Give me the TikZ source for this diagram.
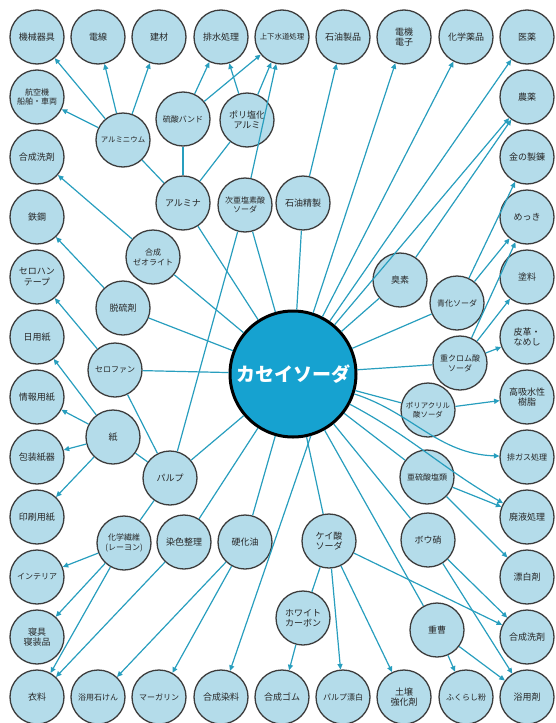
\documentclass[tikz,border=0pt]{standalone}
\usepackage{fontspec}
\usepackage{tikz}
\usetikzlibrary{arrows.meta}
\newfontfamily\cjk{Noto Sans CJK JP}
\definecolor{nodeFill}{RGB}{180,220,234}
\definecolor{nodeEdge}{RGB}{60,60,60}
\definecolor{hubFill}{RGB}{22,162,208}
\definecolor{lineBlue}{RGB}{40,158,190}
\tikzset{
  item/.style={circle, draw=nodeEdge, line width=1.3pt, fill=nodeFill,
    minimum size=54pt, inner sep=0pt, align=center,
    font=\cjk\fontsize{9}{10.6}\selectfont, text=black!85},
  mid/.style={font=\cjk\fontsize{8}{9.8}\selectfont},
  small/.style={font=\cjk\fontsize{7.4}{9}\selectfont},
  hub/.style={circle, draw=black, line width=3pt, fill=hubFill,
    minimum size=126pt, inner sep=0pt, text=white,
    font=\cjk\bfseries\fontsize{19}{21}\selectfont},
  feed/.style={draw=lineBlue, line width=1.2pt},
  link/.style={feed, -{Triangle[length=5.5pt,width=5pt]}}
}

\begin{document}
\begin{tikzpicture}[x=1pt,y=-1pt]
    \useasboundingbox (0,0) rectangle (555,723);
    % outer ring, top row
    \node[item] (kikai)  at (37,37)  {機械器具};
    \node[item] (densen) at (98,37)  {電線};
    \node[item] (kenzai) at (159,37) {建材};
    \node[item] (haisui) at (221,37) {排水処理};
    \node[item,small] (josui) at (282,37) {上下水道処理};
    \node[item] (sekiyu) at (343,37) {石油製品};
    \node[item] (denki)  at (404,37) {電機\\電子};
    \node[item] (kagaku) at (466,37) {化学薬品};
    \node[item] (iyaku)  at (527,37) {医薬};
    % right column
    \node[item] (noyaku)  at (527,97)  {農薬};
    \node[item] (kin)     at (527,157) {金の製錬};
    \node[item] (mekki)   at (527,217) {めっき};
    \node[item] (toryo)   at (527,277) {塗料};
    \node[item] (hikaku)  at (527,337) {皮革・\\なめし};
    \node[item] (kokyu)   at (527,397) {高吸水性\\樹脂};
    \node[item,mid] (haigas) at (527,457) {排ガス処理};
    \node[item] (haieki)  at (527,517) {廃液処理};
    \node[item] (hyohaku) at (527,577) {漂白剤};
    \node[item] (senzaiR) at (527,637) {合成洗剤};
    \node[item] (yokuzai) at (527,697) {浴用剤};
    % left column
    \node[item,mid] (kokuki) at (37,97) {航空機\\船舶・車両};
    \node[item] (senzaiL)  at (37,157) {合成洗剤};
    \node[item] (tekko)    at (37,217) {鉄鋼};
    \node[item] (tape)     at (37,277) {セロハン\\テープ};
    \node[item] (nichiyo)  at (37,337) {日用紙};
    \node[item] (joho)     at (37,397) {情報用紙};
    \node[item] (hoso)     at (37,457) {包装紙器};
    \node[item] (insatsu)  at (37,517) {印刷用紙};
    \node[item,mid] (interior) at (37,577) {インテリア};
    \node[item] (shingu)   at (37,637) {寝具\\寝装品};
    \node[item] (iryo)     at (37,697) {衣料};
    % bottom row
    \node[item,mid] (sekken) at (98,697) {浴用石けん};
    \node[item,mid] (margarin) at (159,697) {マーガリン};
    \node[item] (senryo)    at (221,697) {合成染料};
    \node[item] (gomu)      at (282,697) {合成ゴム};
    \node[item,mid] (pulpH) at (343,697) {パルプ漂白};
    \node[item] (dojo)      at (404,697) {土壌\\強化剤};
    \node[item,mid] (fukurashi) at (466,697) {ふくらし粉};
    % intermediate products
    \node[item,small] (alumi) at (123,140) {アルミニウム};
    \node[item,mid] (bando) at (183,119) {硫酸バンド};
    \node[item] (pac)      at (247,120) {ポリ塩化\\アルミ};
    \node[item] (alumina)  at (183,203) {アルミナ};
    \node[item,mid] (jiaen) at (245,205) {次亜塩素酸\\ソーダ};
    \node[item] (seisei)   at (303,203) {石油精製};
    \node[item,mid] (zeolite) at (153,257) {合成\\ゼオライト};
    \node[item] (datsuryu) at (123,308) {脱硫剤};
    \node[item,mid] (cello) at (115,370) {セロファン};
    \node[item] (kami)     at (113,437) {紙};
    \node[item] (pulp)     at (170,478) {パルプ};
    \node[item,mid] (rayon) at (124,543) {化学繊維\\(レーヨン)};
    \node[item] (senshoku) at (184,542) {染色整理};
    \node[item] (kokayu)   at (245,542) {硬化油};
    \node[item] (keisan)   at (329,541) {ケイ酸\\ソーダ};
    \node[item] (white)    at (303,618) {ホワイト\\カーボン};
    \node[item] (jusou)    at (437,630) {重曹};
    \node[item] (bosho)    at (428,540) {ボウ硝};
    \node[item,mid] (aryusan) at (427,477) {亜硫酸塩類};
    \node[item,small] (paa) at (428,410) {ポリアクリル\\酸ソーダ};
    \node[item,mid] (jucrom) at (460,363) {重クロム酸\\ソーダ};
    \node[item,mid] (seika) at (457,303) {青化ソーダ};
    \node[item] (shuso)    at (400,280) {臭素};
    % hub
    \node[hub] (soda) at (293,374) {カセイソーダ};
    % hub to intermediates
    \draw[feed] (soda) -- (alumina);
    \draw[feed] (soda) -- (jiaen);
    \draw[feed] (soda) -- (seisei);
    \draw[feed] (soda) -- (zeolite);
    \draw[feed] (soda) -- (datsuryu);
    \draw[feed] (soda) -- (cello);
    \draw[feed] (soda) -- (pulp);
    \draw[feed] (soda) -- (senshoku);
    \draw[feed] (soda) -- (kokayu);
    \draw[feed] (soda) -- (keisan);
    \draw[feed] (soda) -- (jusou);
    \draw[feed] (soda) -- (bosho);
    \draw[feed] (soda) -- (aryusan);
    \draw[feed] (soda) -- (paa);
    \draw[feed] (soda) -- (jucrom);
    \draw[feed] (soda) -- (seika);
    \draw[feed] (soda) -- (shuso);
    % hub straight to uses
    \draw[link] (soda) -- (denki);
    \draw[link] (soda) -- (kagaku);
    \draw[link] (soda) -- (iyaku);
    \draw[link] (soda) -- (noyaku);
    \draw[link] (soda.-74) -- (senryo);
    \draw[link] (soda) to[out=-18,in=178] (haigas);
    \draw[link] (soda) to[out=-28,in=150] (haieki);
    % aluminium branch
    \draw[feed] (alumina) -- (alumi);
    \draw[feed] (alumina) -- (bando);
    \draw[feed] (alumina) -- (pac);
    \draw[link] (alumi) -- (kikai);
    \draw[link] (alumi) -- (kokuki);
    \draw[link] (alumi) -- (densen);
    \draw[link] (alumi) -- (kenzai);
    \draw[link] (bando) -- (haisui);
    \draw[link] (bando) -- (josui);
    \draw[link] (pac) -- (haisui);
    \draw[link] (pac) -- (josui);
    \draw[link] (jiaen) -- (josui);
    \draw[feed] (jiaen) -- (pulp);
    \draw[link] (seisei) -- (sekiyu);
    % left side
    \draw[link] (zeolite) -- (senzaiL);
    \draw[link] (datsuryu) -- (tekko);
    \draw[link] (cello) -- (tape);
    \draw[feed] (cello) -- (pulp);
    \draw[feed] (pulp) -- (kami);
    \draw[feed] (pulp) -- (rayon);
    \draw[link] (kami) -- (nichiyo);
    \draw[link] (kami) -- (joho);
    \draw[link] (kami) -- (hoso);
    \draw[link] (kami) -- (insatsu);
    \draw[link] (rayon) -- (interior);
    \draw[link] (rayon) -- (shingu);
    \draw[link] (rayon) -- (iryo);
    \draw[link] (senshoku) -- (iryo);
    \draw[link] (kokayu) -- (sekken);
    \draw[link] (kokayu) -- (margarin);
    % bottom side
    \draw[feed] (keisan) -- (white);
    \draw[link] (white) -- (gomu);
    \draw[link] (keisan) -- (pulpH);
    \draw[link] (keisan) -- (dojo);
    \draw[link] (keisan) -- (senzaiR);
    \draw[link] (bosho) -- (senzaiR);
    \draw[link] (bosho) -- (yokuzai);
    \draw[link] (jusou) -- (fukurashi);
    \draw[link] (jusou) -- (yokuzai);
    % right side
    \draw[link] (aryusan) -- (haieki);
    \draw[link] (aryusan) -- (hyohaku);
    \draw[link] (paa) -- (kokyu);
    \draw[link] (jucrom) -- (mekki);
    \draw[link] (jucrom) -- (toryo);
    \draw[link] (jucrom) -- (hikaku);
    \draw[link] (seika) -- (kin);
    \draw[link] (seika) -- (mekki);
    \draw[link] (shuso) -- (noyaku);
\end{tikzpicture}
\end{document}
